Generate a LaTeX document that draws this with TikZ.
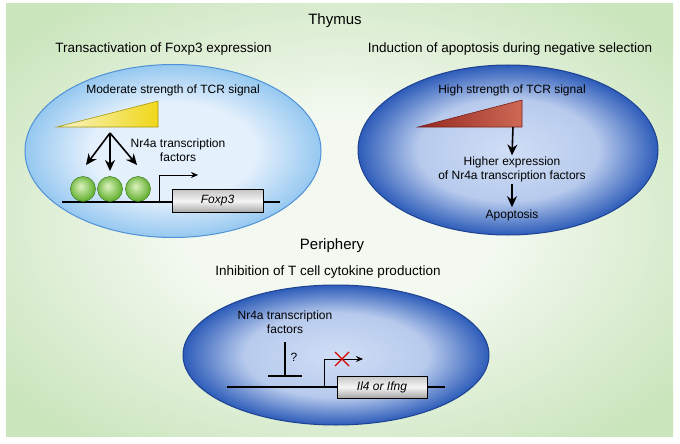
\documentclass[tikz,border=0pt]{standalone}
\usepackage{fontspec}
\setmainfont{Liberation Sans}
\usetikzlibrary{arrows.meta, shapes.geometric}

\definecolor{bgedge}{RGB}{202,229,188}
\definecolor{bgmid}{RGB}{243,249,240}
\definecolor{paleIn}{RGB}{228,240,252}
\definecolor{paleOut}{RGB}{150,200,240}
\definecolor{paleLine}{RGB}{80,145,215}
\definecolor{deepIn}{RGB}{208,222,246}
\definecolor{deepOut}{RGB}{45,92,185}
\definecolor{deepLine}{RGB}{30,65,145}
\definecolor{nrIn}{RGB}{220,242,190}
\definecolor{nrOut}{RGB}{105,180,55}
\definecolor{nrLine}{RGB}{60,120,30}
\definecolor{tcrpale}{RGB}{248,244,200}
\definecolor{tcryellow}{RGB}{240,215,25}
\definecolor{tcrdark}{RGB}{150,40,32}
\definecolor{tcrlight}{RGB}{205,105,85}

\pgfdeclareradialshading{paleshade}{\pgfpoint{0bp}{0bp}}{color(0bp)=(paleIn); color(14bp)=(paleIn); color(25bp)=(paleOut); color(50bp)=(paleOut)}
\pgfdeclareradialshading{deepshade}{\pgfpoint{0bp}{0bp}}{color(0bp)=(deepIn); color(15bp)=(deepIn!85!deepOut); color(25bp)=(deepOut); color(50bp)=(deepOut)}
\pgfdeclareradialshading{bgshade}{\pgfpoint{0bp}{0bp}}{color(0bp)=(bgmid); color(12bp)=(bgmid); color(32bp)=(bgedge); color(50bp)=(bgedge)}
\pgfdeclareradialshading{nrshade}{\pgfpoint{-5bp}{6bp}}{color(0bp)=(nrIn); color(8bp)=(nrIn!70!nrOut); color(25bp)=(nrOut); color(50bp)=(nrOut)}

\begin{document}
\begin{tikzpicture}[x=1pt, y=-1pt]
    % Styles
    \tikzstyle{title} = [font=\fontsize{15}{18}\selectfont]
    \tikzstyle{heading} = [font=\fontsize{13.5}{16}\selectfont]
    \tikzstyle{txt} = [font=\fontsize{12}{14.5}\selectfont, align=center, inner sep=1pt]
    \tikzstyle{cell} = [ellipse, inner sep=0pt]
    \tikzstyle{gene} = [rectangle, draw=black, line width=0.5pt, minimum height=23pt, top color=gray!45, bottom color=gray!70, middle color=gray!8, font=\fontsize{12}{14}\selectfont\itshape]
    \tikzstyle{nrball} = [circle, minimum size=25pt, inner sep=0pt, shading=nrshade, draw=nrLine, line width=0.5pt]
    \tikzstyle{arrow} = [-{Stealth[length=11pt, width=10pt]}, line width=1.6pt]
    \tikzstyle{tss} = [-{Stealth[length=7pt, width=6pt]}, line width=0.7pt]
    \tikzstyle{dna} = [line width=1.4pt]

    \useasboundingbox (0,0) rectangle (680,444);
    \fill[shading=bgshade] (6,4) rectangle (673,436);

    % Headings
    \node[title] (thymus) at (335,21) {Thymus};
    \node[heading] (foxhead) at (163.5,49) {Transactivation of Foxp3 expression};
    \node[heading] (apohead) at (510,49) {Induction of apoptosis during negative selection};
    \node[title] (periph) at (332,246) {Periphery};
    \node[heading] (inhhead) at (328,272) {Inhibition of T cell cytokine production};

    % Cells
    \node[cell, shading=paleshade, draw=paleLine, line width=1pt, minimum width=296pt, minimum height=173pt] (cellL) at (173,151) {};
    \node[cell, shading=deepshade, draw=deepLine, line width=1pt, minimum width=300pt, minimum height=170pt] (cellR) at (508,150) {};
    \node[cell, shading=deepshade, draw=deepLine, line width=1pt, minimum width=306pt, minimum height=140pt] (cellB) at (336,355) {};

    % Transactivation of Foxp3
    \node[txt] (modsig) at (173,90) {Moderate strength of TCR signal};
    \draw[draw=tcryellow!70!black, line width=0.6pt, left color=tcrpale, right color=tcryellow] (57,127) -- (158,101) -- (158,127) -- cycle;
    \node[txt] (nrL) at (178,150) {Nr4a transcription\\factors};
    \coordinate (fork) at (110,133);
    \coordinate (dnaL1) at (62,202);
    \coordinate (dnaL2) at (280,202);
    \coordinate (tssL) at (159,202);
    \coordinate (tssLtop) at (159,175);
    \coordinate (tssLend) at (198,175);
    \draw[dna] (dnaL1) -- (dnaL2);
    \node[nrball] (ball1) at (83,189) {};
    \node[nrball] (ball2) at (110,189) {};
    \node[nrball] (ball3) at (138,189) {};
    \coordinate (hit1) at (86,165);
    \coordinate (hit2) at (110,171);
    \coordinate (hit3) at (137,165);
    \draw[arrow] (fork) -- (hit1);
    \draw[arrow] (fork) -- (hit2);
    \draw[arrow] (fork) -- (hit3);
    \draw[tss] (tssL) -- (tssLtop) -- (tssLend);
    \node[gene, minimum width=91pt] (foxp3) at (217.5,201) {Foxp3};

    % Apoptosis
    \node[txt] (highsig) at (512,90) {High strength of TCR signal};
    \draw[draw=tcrdark!80!black, line width=0.6pt, left color=tcrdark, right color=tcrlight] (418,127) -- (522,100) -- (522,127) -- cycle;
    \coordinate (redbase) at (513,127);
    \node[txt] (hiexp) at (512,169.5) {Higher expression\\of Nr4a transcription factors};
    \node[txt] (apop) at (512,215) {Apoptosis};
    \draw[arrow] (redbase) -- (hiexp.north);
    \draw[arrow, shorten >=1pt] (hiexp.south) -- (apop.north);

    % Inhibition of cytokines
    \node[txt] (nrB) at (285,322) {Nr4a transcription\\factors};
    \coordinate (inhtop) at (285,342);
    \coordinate (inhbar) at (285,377);
    \draw[line width=1.6pt, -{Bar[width=34pt]}] (inhtop) -- (inhbar);
    \node[txt] (quest) at (294,357) {?};
    \coordinate (dnaB1) at (227,387);
    \coordinate (dnaB2) at (445,387);
    \coordinate (tssB) at (324,387);
    \coordinate (tssBtop) at (324,359);
    \coordinate (tssBend) at (363,359);
    \draw[dna] (dnaB1) -- (dnaB2);
    \draw[tss] (tssB) -- (tssBtop) -- (tssBend);
    \node[gene, minimum width=90pt, minimum height=22pt] (cyto) at (382,387) {Il4 or Ifng};
    \coordinate (block) at (342,359);
    \draw[red!85!black, line width=1.3pt] ([shift={(-7,-7)}]block) -- ([shift={(7,7)}]block)
        ([shift={(-7,7)}]block) -- ([shift={(7,-7)}]block);
\end{tikzpicture}
\end{document}
